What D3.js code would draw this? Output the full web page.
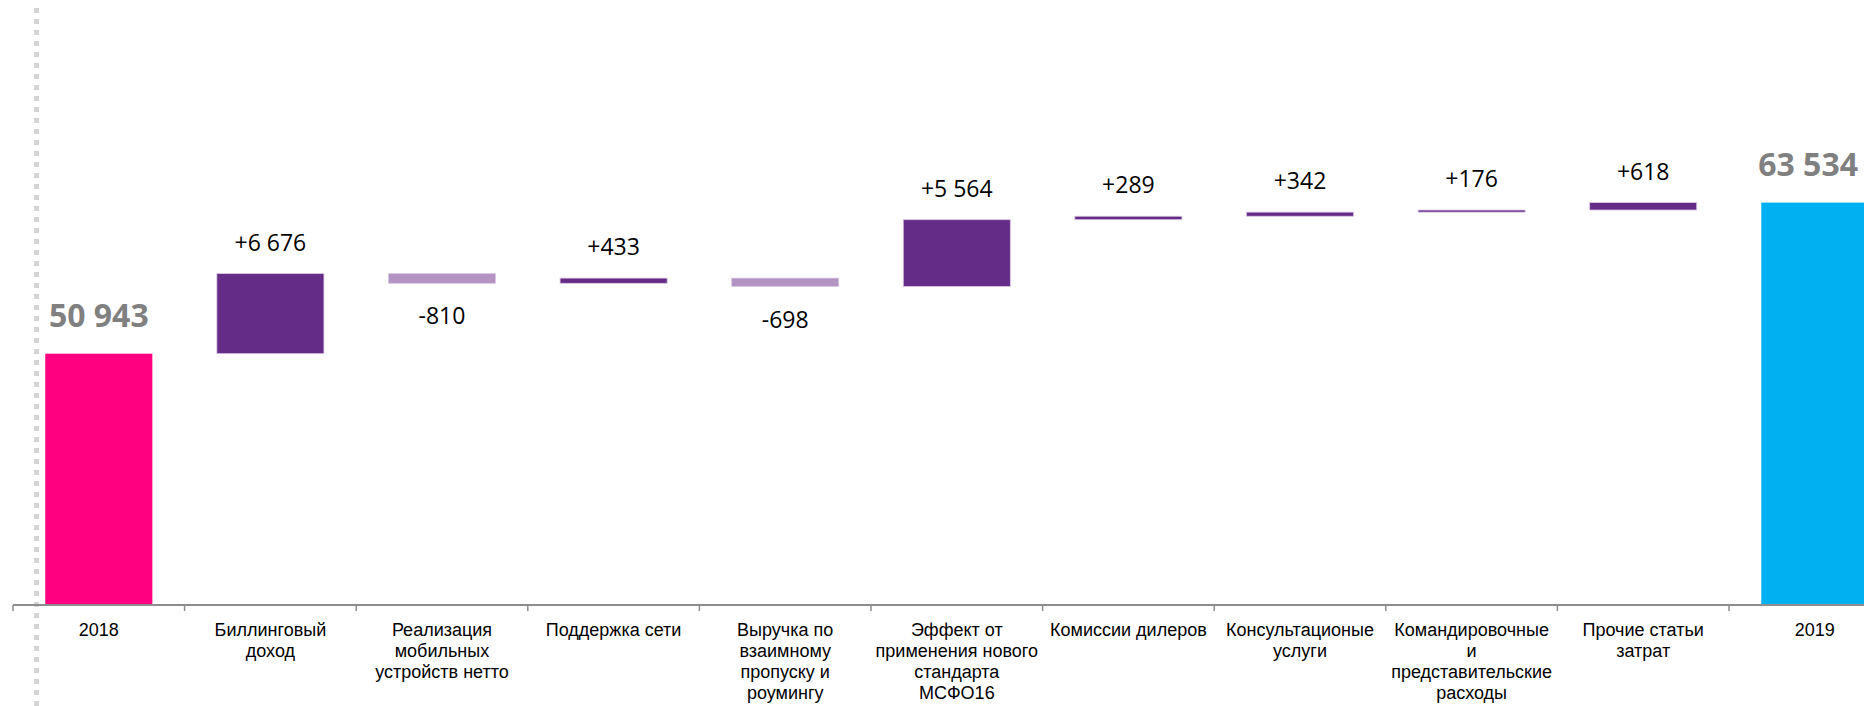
<!DOCTYPE html>
<html>
<head>
<meta charset="utf-8">
<script src="https://cdn.jsdelivr.net/npm/d3@7"></script>
<style>
  body { margin: 0; background: #fff; }
  svg { display: block; }
</style>
</head>
<body>
<script>
'use strict';

// categories, one string per axis label; "|" marks a line break
const categories = [
  "2018",
  "Биллинговый|доход",
  "Реализация|мобильных|устройств нетто",
  "Поддержка сети",
  "Выручка по|взаимному|пропуску и|роумингу",
  "Эффект от|применения нового|стандарта|МСФО16",
  "Комиссии дилеров",
  "Консультационые|услуги",
  "Командировочные|и|представительские|расходы",
  "Прочие статьи|затрат",
  "2019"
];
const deltas = [50943, 6676, -810, 433, -698, 5564, 289, 342, 176, 618, 63534];
const isTotal = [true, false, false, false, false, false, false, false, false, false, true];
const totalColors = ["#ff0080", "#00b0f0"];

(function() {
  const width = 1864, height = 706;
  const svg = d3.select('body').append('svg')
    .attr('width', width)
    .attr('height', height);

  const loc = d3.formatLocale({ decimal: ",", thousands: " ", grouping: [3], currency: ["", ""], minus: "-" });
  const fmtDelta = loc.format("+,");
  const fmtTotal = loc.format(",");

  // build waterfall rows
  let running = 0, ti = 0;
  const rows = categories.map((c, i) => {
    let lo, hi;
    if (isTotal[i]) {
      lo = 0; hi = deltas[i]; running = deltas[i];
    } else {
      lo = running; hi = running + deltas[i]; running = hi;
    }
    return {
      cat: c, value: deltas[i], total: isTotal[i],
      y0: Math.min(lo, hi), y1: Math.max(lo, hi),
      color: isTotal[i] ? totalColors[ti++] : (deltas[i] >= 0 ? "#652c87" : "#b393c2")
    };
  });

  const axisY = 605;
  const x = d3.scaleBand()
    .domain(categories)
    .range([13, 13 + 11 * 171.6])
    .paddingInner(0.376)
    .paddingOuter(0.188);

  const y = d3.scaleLinear()
    .domain([30000, 80000])
    .range([axisY, 5]);

  // dotted vertical guide on the left
  svg.append('line')
    .attr('x1', 36.5).attr('x2', 36.5)
    .attr('y1', 8).attr('y2', height)
    .attr('stroke', '#d4d4d4')
    .attr('stroke-width', 5)
    .attr('stroke-dasharray', '5,6');

  // bars
  svg.selectAll('.bar')
    .data(rows)
    .enter()
    .append('rect')
      .attr('class', 'bar')
      .attr('x', d => x(d.cat))
      .attr('width', x.bandwidth())
      .attr('y', d => y(d.y1))
      .attr('height', d => (d.total ? axisY : y(d.y0)) - y(d.y1))
      .attr('fill', d => d.color)
      .attr('stroke', d => d.total ? 'none' : '#d9c8e3')
      .attr('stroke-width', d => d.total ? 0 : 0.8);

  // x axis with boundary ticks
  const step = x.step();
  const start = x.range()[0];
  svg.append('line')
    .attr('x1', start).attr('x2', width)
    .attr('y1', axisY).attr('y2', axisY)
    .attr('stroke', '#8c8c8c')
    .attr('stroke-width', 2);

  svg.selectAll('.tick')
    .data(d3.range(categories.length + 1))
    .enter()
    .append('line')
      .attr('class', 'tick')
      .attr('x1', i => start + i * step)
      .attr('x2', i => start + i * step)
      .attr('y1', axisY).attr('y2', axisY + 6)
      .attr('stroke', '#8c8c8c')
      .attr('stroke-width', 1.5);

  // category labels
  const catText = svg.selectAll('.cat')
    .data(rows)
    .enter()
    .append('text')
      .attr('class', 'cat')
      .attr('text-anchor', 'middle')
      .attr('font-family', '"Liberation Sans", Arial, sans-serif')
      .attr('font-size', '18px')
      .attr('fill', '#000');

  catText.each(function(d) {
    const cx = x(d.cat) + x.bandwidth() / 2;
    d.cat.split('|').forEach((line, k) => {
      d3.select(this).append('tspan')
        .attr('x', cx)
        .attr('y', 636 + k * 21)
        .text(line);
    });
  });

  // value labels
  svg.selectAll('.val')
    .data(rows)
    .enter()
    .append('text')
      .attr('class', 'val')
      .attr('text-anchor', 'middle')
      .attr('font-family', '"Open Sans", sans-serif')
      .attr('font-size', d => d.total ? '32px' : '23px')
      .attr('font-weight', d => d.total ? 'bold' : 'normal')
      .attr('fill', d => d.total ? '#808080' : '#000')
      .attr('dy', '0.35em')
      .attr('x', d => x(d.cat) + x.bandwidth() / 2)
      .attr('y', d => {
        if (d.total) return y(d.y1) - 38;
        if (d.value >= 0) return y(d.y1) - 31;
        return y(d.y0) + 33;
      })
      .text(d => d.total ? fmtTotal(d.value) : fmtDelta(d.value))
      .each(function() {
        // keep labels inside the picture
        const bb = this.getBBox();
        if (bb.x + bb.width > width - 6) {
          d3.select(this).attr('x', width - 6 - bb.width / 2);
        }
      });
})();
</script>
</body>
</html>
